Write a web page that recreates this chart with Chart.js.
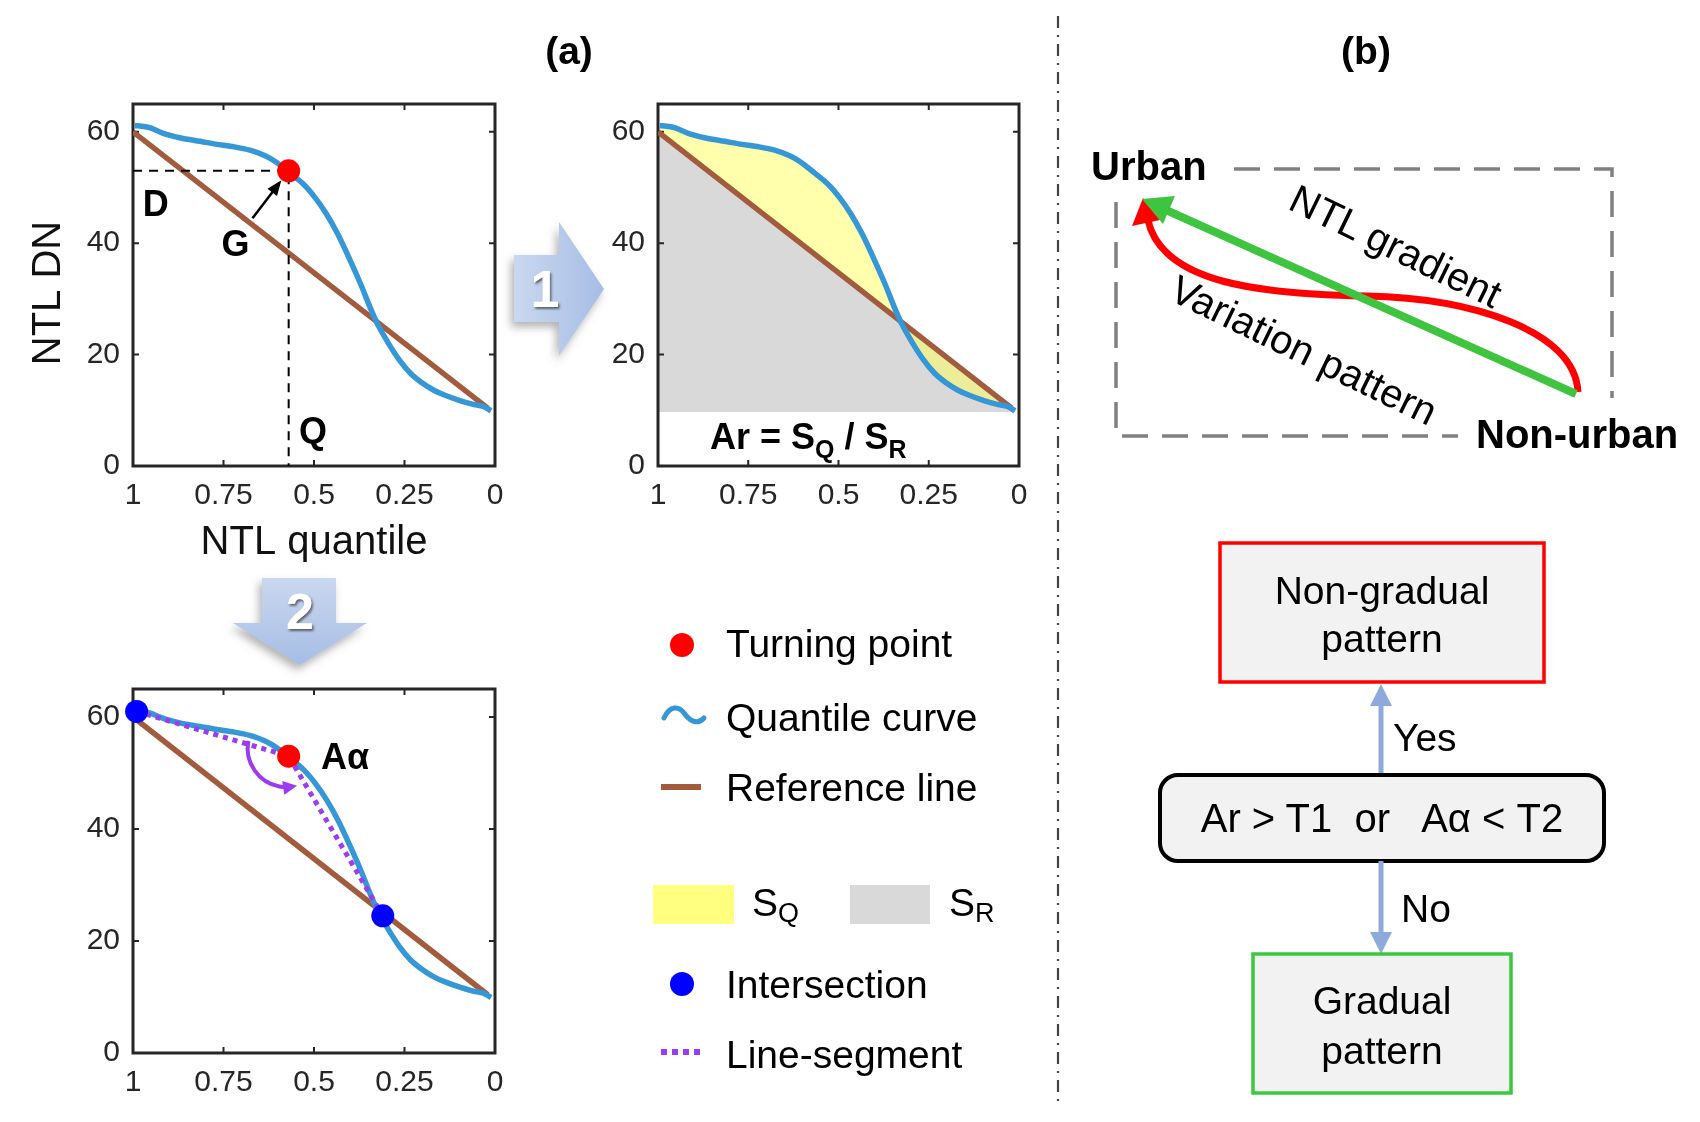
<!DOCTYPE html>
<html><head><meta charset="utf-8">
<script src="https://cdn.jsdelivr.net/npm/chart.js@4.4.0/dist/chart.umd.min.js"></script>
<style>
html,body{margin:0;padding:0;background:#fff;}
#wrap{position:relative;width:1700px;height:1122px;overflow:hidden;background:#fff;}
canvas{position:absolute;}
#ov{position:absolute;left:0;top:0;pointer-events:none;}
</style></head><body><div id="wrap">
<canvas id="c1" width="540" height="510" style="left:0px;top:60px"></canvas>
<canvas id="c2" width="506" height="510" style="left:558px;top:60px"></canvas>
<canvas id="c3" width="540" height="476" style="left:0px;top:645px"></canvas>
<svg id="ov" width="1700" height="1122" xmlns="http://www.w3.org/2000/svg" font-family="'Liberation Sans', Arial, sans-serif">
<defs>
 <linearGradient id="g1" x1="0" y1="0" x2="1" y2="0"><stop offset="0" stop-color="#cad8ef"/><stop offset="1" stop-color="#a6bde5"/></linearGradient>
 <linearGradient id="g2" x1="0" y1="0" x2="0" y2="1"><stop offset="0" stop-color="#cad8ef"/><stop offset="1" stop-color="#a6bde5"/></linearGradient>
 <filter id="sh" x="-40%" y="-40%" width="180%" height="180%"><feDropShadow dx="-3" dy="5" stdDeviation="4" flood-color="#666" flood-opacity="0.5"/></filter>
 <filter id="tsh" x="-40%" y="-40%" width="180%" height="180%"><feDropShadow dx="1.5" dy="2" stdDeviation="1" flood-color="#444" flood-opacity="0.8"/></filter>
</defs>
<!-- panel headings -->
<text x="569" y="50" font-size="39" font-weight="bold" text-anchor="middle" dominant-baseline="central">(a)</text>
<text x="1366" y="50" font-size="39" font-weight="bold" text-anchor="middle" dominant-baseline="central">(b)</text>
<!-- divider -->
<line x1="1058" y1="16" x2="1058" y2="1106" stroke="#444" stroke-width="2.2" stroke-dasharray="12 7 2 7"/>
<!-- block arrow 1 -->
<polygon points="514,255 559,255 559,222 604,289 559,356 559,322 514,322" fill="url(#g1)" filter="url(#sh)"/>
<text x="545" y="289" font-size="52" font-weight="bold" fill="#fff" text-anchor="middle" dominant-baseline="central" filter="url(#tsh)">1</text>
<!-- block arrow 2 -->
<polygon points="262,578 336,578 336,623 367,623 300,665 233,623 262,623" fill="url(#g2)" filter="url(#sh)"/>
<text x="300" y="612" font-size="50" font-weight="bold" fill="#fff" text-anchor="middle" dominant-baseline="central" filter="url(#tsh)">2</text>
<!-- legend -->
<g font-size="39" dominant-baseline="central">
 <circle cx="682" cy="645" r="12" fill="#ff0000"/>
 <text x="726" y="643">Turning point</text>
 <path d="M664,718 C670,705 679,706 684,713 S697,726 704,718" fill="none" stroke="#3597d6" stroke-width="5" stroke-linecap="round"/>
 <text x="726" y="717">Quantile curve</text>
 <line x1="661" y1="787" x2="701" y2="787" stroke="#a25b3c" stroke-width="6"/>
 <text x="726" y="787">Reference line</text>
 <rect x="653" y="885" width="81" height="39" fill="#ffff80"/>
 <text x="752" y="902">S<tspan font-size="27" dy="11">Q</tspan></text>
 <rect x="850" y="885" width="80" height="39" fill="#d9d9d9"/>
 <text x="949" y="902">S<tspan font-size="27" dy="11">R</tspan></text>
 <circle cx="682" cy="984" r="12" fill="#0000ff"/>
 <text x="726" y="984">Intersection</text>
 <line x1="661" y1="1052" x2="704" y2="1052" stroke="#9b3cf0" stroke-width="6" stroke-dasharray="6 5"/>
 <text x="726" y="1054">Line-segment</text>
</g>
<!-- panel b schematic -->
<polyline points="1234,169 1612,169 1612,398" fill="none" stroke="#808080" stroke-width="3.5" stroke-dasharray="26 14"/>
<polyline points="1116,202 1116,436 1458,436" fill="none" stroke="#808080" stroke-width="3.5" stroke-dasharray="26 14"/>
<path d="M1578,392 C1575,330 1470,298 1366,296 C1262,294 1162,284 1148,220" fill="none" stroke="#ff0000" stroke-width="7"/>
<polygon points="1143,198 1132,226 1160,220" fill="#ff0000"/>
<line x1="1576" y1="394" x2="1166" y2="210" stroke="#3ec43e" stroke-width="8"/>
<polygon points="1142,199 1175,196 1163,224" fill="#3ec43e"/>
<text x="1091" y="166" font-size="40" font-weight="bold" dominant-baseline="central">Urban</text>
<text x="1476" y="434" font-size="40" font-weight="bold" dominant-baseline="central">Non-urban</text>
<text x="1396" y="246" font-size="40" text-anchor="middle" dominant-baseline="central" transform="rotate(26 1396 246)">NTL gradient</text>
<text x="1304" y="350" font-size="40" text-anchor="middle" dominant-baseline="central" transform="rotate(26 1304 350)">Variation pattern</text>
<!-- flowchart -->
<rect x="1220" y="543" width="324" height="139" fill="#f2f2f2" stroke="#ff0000" stroke-width="3.5"/>
<text x="1382" y="590" font-size="39" text-anchor="middle" dominant-baseline="central">Non-gradual</text>
<text x="1382" y="638" font-size="39" text-anchor="middle" dominant-baseline="central">pattern</text>
<line x1="1381" y1="775" x2="1381" y2="700" stroke="#8eaadb" stroke-width="5"/>
<polygon points="1381,684 1370,706 1392,706" fill="#8eaadb"/>
<text x="1393" y="737" font-size="39" dominant-baseline="central">Yes</text>
<rect x="1160" y="775" width="444" height="86" rx="18" ry="18" fill="#f2f2f2" stroke="#000" stroke-width="4"/>
<text x="1382" y="818" font-size="40" text-anchor="middle" dominant-baseline="central" xml:space="preserve">Ar &gt; T1  or   Aα &lt; T2</text>
<line x1="1381" y1="861" x2="1381" y2="936" stroke="#8eaadb" stroke-width="5"/>
<polygon points="1381,954 1370,932 1392,932" fill="#8eaadb"/>
<text x="1401" y="908" font-size="39" dominant-baseline="central">No</text>
<rect x="1253" y="954" width="258" height="139" fill="#f2f2f2" stroke="#3cc83c" stroke-width="3.5"/>
<text x="1382" y="1000" font-size="39" text-anchor="middle" dominant-baseline="central">Gradual</text>
<text x="1382" y="1050" font-size="39" text-anchor="middle" dominant-baseline="central">pattern</text>
</svg>
</div>
<script>
// ---------- data ----------
const xTickVals = [1, 0.75, 0.5, 0.25, 0];
const xTickLabels = ['1', '0.75', '0.5', '0.25', '0'];
const yTickVals = [0, 20, 40, 60];
const curveQ  = [0.995, 0.975, 0.952, 0.93, 0.91, 0.868, 0.815, 0.772, 0.72, 0.677, 0.635, 0.603, 0.57, 0.529, 0.497, 0.466, 0.434, 0.402, 0.37, 0.344, 0.323, 0.296, 0.265, 0.233, 0.201, 0.169, 0.138, 0.095, 0.063, 0.032, 0.011];
const curveDN = [61.1, 61.0, 60.7, 60.1, 59.6, 58.9, 58.3, 57.8, 57.3, 56.7, 55.7, 54.5, 52.8, 50.6, 48.2, 45.3, 41.6, 37.2, 32.5, 28.3, 25.3, 22.2, 19.1, 16.6, 14.9, 13.6, 12.7, 11.7, 11.1, 10.7, 9.9];
const refQ  = [1, 0.02];
const refDN = [60, 10.4];
const turnQ  = [0.57];
const turnDN = [53];
const guideQ  = [1, 0.57, 0.57];
const guideDN = [53, 53, 0];
const interQ  = [0.99, 0.31];
const interDN = [61, 24.5];
const segQ  = [0.99, 0.57, 0.31];
const segDN = [61, 53, 24.5];
const baseDN = 9.7;

// ---------- styles ----------
const FONT = "'Liberation Sans', Arial, sans-serif";
const TICK = '#262626';
const BLUE = '#3597d6', BROWN = '#a25b3c';
const pts = (xs, ys) => xs.map((v, i) => ({x: v, y: ys[i]}));

function arrowHead(ctx, x, y, ang, len, wid, color) {
  ctx.save(); ctx.translate(x, y); ctx.rotate(ang);
  ctx.beginPath(); ctx.moveTo(0, 0); ctx.lineTo(-len, -wid / 2); ctx.lineTo(-len, wid / 2); ctx.closePath();
  ctx.fillStyle = color; ctx.fill(); ctx.restore();
}

const framePlugin = {
  id: 'frame',
  beforeDatasetsDraw(chart) {
    const {ctx, chartArea: a, scales: {x, y}} = chart;
    ctx.save();
    ctx.strokeStyle = TICK; ctx.lineWidth = 3;
    ctx.strokeRect(a.left, a.top, a.right - a.left, a.bottom - a.top);
    ctx.lineWidth = 2; const L = 6;
    ctx.beginPath();
    xTickVals.forEach(v => { const p = x.getPixelForValue(v);
      ctx.moveTo(p, a.bottom); ctx.lineTo(p, a.bottom - L); ctx.moveTo(p, a.top); ctx.lineTo(p, a.top + L); });
    yTickVals.forEach(v => { const p = y.getPixelForValue(v);
      ctx.moveTo(a.left, p); ctx.lineTo(a.left + L, p); ctx.moveTo(a.right, p); ctx.lineTo(a.right - L, p); });
    ctx.stroke(); ctx.restore();
  }
};

// y-axis title drawn a little below the axis centre, as in the original figure
const yTitlePlugin = {
  id: 'ytitle',
  afterDraw(chart) {
    const {ctx, chartArea: a} = chart;
    ctx.save();
    ctx.translate(49, (a.top + a.bottom) / 2 + 8);
    ctx.rotate(-Math.PI / 2);
    ctx.fillStyle = '#111'; ctx.font = '40px ' + FONT; ctx.textAlign = 'center'; ctx.textBaseline = 'middle';
    ctx.fillText('NTL DN', 0, 0);
    ctx.restore();
  }
};

function makeOptions(o) {
  return {
    responsive: false, animation: false, devicePixelRatio: 1,
    layout: {padding: {top: 44, right: 45, left: 0, bottom: 0}},
    plugins: {legend: {display: false}, tooltip: {enabled: false}, filler: {drawTime: 'beforeDatasetsDraw'}},
    elements: {point: {radius: 0}, line: {borderCapStyle: 'butt'}},
    scales: {
      x: {
        type: 'linear', reverse: true, min: 0, max: 1,
        grid: {display: false, drawTicks: false}, border: {display: false},
        afterBuildTicks: s => { s.ticks = xTickVals.map(v => ({value: v})); },
        afterFit: s => { s.height = o.xh; },
        ticks: {padding: 12, color: TICK, font: {family: FONT, size: 30}, maxRotation: 0, autoSkip: false,
                callback: (v, i) => xTickLabels[i]},
        title: o.xTitle ? {display: true, text: o.xTitle, color: '#111', font: {family: FONT, size: 40}, padding: {top: 0, bottom: 3}} : {display: false}
      },
      y: {
        type: 'linear', min: 0, max: 65,
        grid: {display: false, drawTicks: false}, border: {display: false},
        afterBuildTicks: s => { s.ticks = yTickVals.map(v => ({value: v})); },
        afterFit: s => { s.width = o.yw; },
        ticks: {padding: 13, color: TICK, font: {family: FONT, size: 30}},
        title: {display: false}
      }
    }
  };
}

const curveDS = extra => Object.assign({data: pts(curveQ, curveDN), borderColor: BLUE, borderWidth: 5.5, tension: 0.3, pointRadius: 0, fill: false}, extra || {});
const refDS = extra => Object.assign({data: pts(refQ, refDN), borderColor: BROWN, borderWidth: 5.5, pointRadius: 0, fill: false}, extra || {});
const dotDS = (xs, ys, color) => ({data: pts(xs, ys), showLine: false, pointRadius: 11.5, pointHoverRadius: 11.5, pointBackgroundColor: color, pointBorderWidth: 0, borderColor: color, clip: false});

// ---------- chart 1 ----------
const letterNotes = [{t: 'D', q: 0.937, v: 46.7}, {t: 'G', q: 0.717, v: 39.5}, {t: 'Q', q: 0.503, v: 6.0}];
const gArrow = {q0: 0.67, v0: 44.5};
const notes1 = {
  id: 'notes1',
  afterDatasetsDraw(chart) {
    const {ctx, scales: {x, y}} = chart;
    ctx.save();
    ctx.fillStyle = '#000'; ctx.font = 'bold 36px ' + FONT; ctx.textAlign = 'center'; ctx.textBaseline = 'middle';
    letterNotes.forEach(n => ctx.fillText(n.t, x.getPixelForValue(n.q), y.getPixelForValue(n.v)));
    const x0 = x.getPixelForValue(gArrow.q0), y0 = y.getPixelForValue(gArrow.v0);
    const x1 = x.getPixelForValue(turnQ[0]), y1 = y.getPixelForValue(turnDN[0]);
    const ang = Math.atan2(y1 - y0, x1 - x0);
    const tx = x1 - Math.cos(ang) * 12, ty = y1 - Math.sin(ang) * 12;
    ctx.strokeStyle = '#000'; ctx.lineWidth = 2.5;
    ctx.beginPath(); ctx.moveTo(x0, y0); ctx.lineTo(tx - Math.cos(ang) * 12, ty - Math.sin(ang) * 12); ctx.stroke();
    arrowHead(ctx, tx, ty, ang, 15, 12, '#000');
    ctx.restore();
  }
};
new Chart(document.getElementById('c1'), {
  type: 'line',
  data: {datasets: [
    dotDS(turnQ, turnDN, '#ff0000'),
    {data: pts(guideQ, guideDN), borderColor: '#000', borderWidth: 2, borderDash: [9, 7], pointRadius: 0, fill: false},
    curveDS(),
    refDS()
  ]},
  options: makeOptions({xh: 104, yw: 133, xTitle: 'NTL quantile'}),
  plugins: [framePlugin, notes1, yTitlePlugin]
});

// ---------- chart 2 ----------
const arNote = {q: 0.584, v: 3.1};
const notes2 = {
  id: 'notes2',
  afterDatasetsDraw(chart) {
    const {ctx, scales: {x, y}} = chart;
    const parts = [['Ar = S', 36, 0], ['Q', 25, 9], [' / S', 36, 0], ['R', 25, 9]];
    ctx.save(); ctx.fillStyle = '#000'; ctx.textBaseline = 'alphabetic'; ctx.textAlign = 'left';
    let w = 0;
    parts.forEach(p => { ctx.font = 'bold ' + p[1] + 'px ' + FONT; w += ctx.measureText(p[0]).width; });
    let cx = x.getPixelForValue(arNote.q) - w / 2; const by = y.getPixelForValue(arNote.v);
    parts.forEach(p => { ctx.font = 'bold ' + p[1] + 'px ' + FONT; ctx.fillText(p[0], cx, by + p[2]); cx += ctx.measureText(p[0]).width; });
    ctx.restore();
  }
};
new Chart(document.getElementById('c2'), {
  type: 'line',
  data: {datasets: [
    curveDS({fill: {target: 1, above: 'rgba(255,255,90,0.5)', below: 'rgba(255,255,90,0.5)'}}),
    refDS({fill: {target: {value: baseDN}, above: '#d9d9d9', below: '#d9d9d9'}})
  ]},
  options: makeOptions({xh: 104, yw: 100}),
  plugins: [framePlugin, notes2]
});

// ---------- chart 3 ----------
const aNote = {q: 0.414, v: 52.5};
const notes3 = {
  id: 'notes3',
  afterDatasetsDraw(chart) {
    const {ctx, scales: {x, y}} = chart;
    ctx.save();
    ctx.fillStyle = '#000'; ctx.font = 'bold 36px ' + FONT; ctx.textAlign = 'center'; ctx.textBaseline = 'middle';
    ctx.fillText('A\u03b1', x.getPixelForValue(aNote.q), y.getPixelForValue(aNote.v));
    const tx = x.getPixelForValue(turnQ[0]), ty = y.getPixelForValue(turnDN[0]);
    const cx = tx - 2, cy = ty - 8, r = 39, a0 = 3.33, a1 = 1.42;
    ctx.strokeStyle = '#9b3cf0'; ctx.lineWidth = 4;
    ctx.beginPath(); ctx.arc(cx, cy, r, a0, a1, true); ctx.stroke();
    const ex = cx + r * Math.cos(a1 - 0.12), ey = cy + r * Math.sin(a1 - 0.12);
    arrowHead(ctx, ex, ey, Math.atan2(-Math.cos(a1), Math.sin(a1)), 14, 14, '#9b3cf0');
    ctx.restore();
  }
};
new Chart(document.getElementById('c3'), {
  type: 'line',
  data: {datasets: [
    dotDS(interQ, interDN, '#0000ff'),
    dotDS(turnQ, turnDN, '#ff0000'),
    {data: pts(segQ, segDN), borderColor: '#9b3cf0', borderWidth: 5, borderDash: [5, 5], pointRadius: 0, fill: false},
    curveDS(),
    refDS()
  ]},
  options: makeOptions({xh: 68, yw: 133}),
  plugins: [framePlugin, notes3]
});
</script>
</body></html>
